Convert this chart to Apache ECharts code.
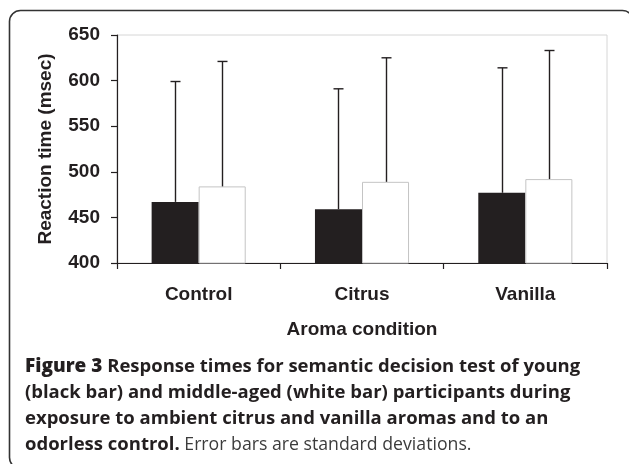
<!DOCTYPE html>
<html>
<head>
<meta charset="utf-8">
<script src="https://cdn.jsdelivr.net/npm/echarts@6/dist/echarts.min.js"></script>
<style>
  html, body { margin: 0; padding: 0; background: #fff; }
  #chart { width: 629px; height: 464px; }
</style>
</head>
<body>
<div id="chart"></div>
<script>
// data
const categories = ['Control', 'Citrus', 'Vanilla'];
const youngMeans = [467, 459, 477];
const youngSD = [132, 132, 137];
const middleMeans = [484, 489, 492];
const middleSD = [137, 136, 141];
const yMin = 400;
const yMax = 650;
const yStep = 50;

const captionLines = [
  ['Figure 3', ' Response times for semantic decision test of young'],
  ['', '(black bar) and middle-aged (white bar) participants during'],
  ['', 'exposure to ambient citrus and vanilla aromas and to an'],
  ['odorless control.', ' Error bars are standard deviations.']
];

const ink = '#231f20';
const barFrac = 0.288; // bar width as part of the category band

function errorBars(means, sds, side) {
  return {
    type: 'custom',
    z: 5,
    data: categories.map((c, i) => [i, means[i], sds[i]]),
    encode: { x: 0, y: 1 },
    renderItem: function (params, api) {
      const band = api.size([1, 0])[0];
      const p = api.coord([api.value(0), api.value(1)]);
      const top = api.coord([api.value(0), api.value(1) + api.value(2)])[1];
      const cx = Math.round(p[0] + side * band * barFrac / 2) + 0.5;
      const style = { stroke: ink, lineWidth: 1.4 };
      return {
        type: 'group',
        children: [
          { type: 'line', shape: { x1: cx, y1: p[1], x2: cx, y2: top }, style: style },
          { type: 'line', shape: { x1: cx - 5, y1: top, x2: cx + 5, y2: top }, style: style }
        ]
      };
    }
  };
}

// caption as rich text: figure label, regular tail on the last line
let captionText = captionLines.map(function (l, i) {
  if (i === 0) return '{f|' + l[0] + '}{s|' + l[1] + '}';
  if (i === 3) return '{s|' + l[0] + '}{n|' + l[1] + '}';
  return '{s|' + l[1] + '}';
}).join('\n');

const chart = echarts.init(document.getElementById('chart'));
const option = {
  backgroundColor: '#fff',
  animation: false,
  grid: {
    left: 117, right: 22, top: 35, bottom: 201,
    show: true, borderColor: '#d6d6d6', borderWidth: 1,
    backgroundColor: 'transparent'
  },
  xAxis: {
    type: 'category',
    data: categories,
    name: 'Aroma condition',
    nameLocation: 'middle',
    nameGap: 57,
    nameTextStyle: { fontFamily: 'Liberation Sans, Arial', fontWeight: 'bold', fontSize: 19, color: ink },
    axisLine: { lineStyle: { color: ink, width: 1.2 } },
    axisTick: { show: true, length: 6, lineStyle: { color: ink, width: 1.2 } },
    axisLabel: { margin: 22, fontFamily: 'Liberation Sans, Arial', fontWeight: 'bold', fontSize: 19, color: ink }
  },
  yAxis: {
    type: 'value',
    min: yMin,
    max: yMax,
    interval: yStep,
    name: 'Reaction time (msec)',
    nameLocation: 'middle',
    nameGap: 62,
    nameTextStyle: { fontFamily: 'Liberation Sans, Arial', fontWeight: 'bold', fontSize: 19, color: ink },
    axisLine: { show: true, lineStyle: { color: ink, width: 1.2 } },
    axisTick: { show: true, length: 6, lineStyle: { color: ink, width: 1.2 } },
    splitLine: { show: false },
    axisLabel: { margin: 17, fontFamily: 'Liberation Sans, Arial', fontWeight: 'bold', fontSize: 19, color: ink }
  },
  series: [
    {
      name: 'Young',
      type: 'bar',
      data: youngMeans,
      barWidth: (barFrac * 100) + '%',
      barGap: '0%',
      itemStyle: { color: ink }
    },
    {
      name: 'Middle-aged',
      type: 'bar',
      data: middleMeans,
      barWidth: (barFrac * 100) + '%',
      barGap: '0%',
      itemStyle: { color: '#fff', borderColor: '#c4c4c4', borderWidth: 1 }
    },
    errorBars(youngMeans, youngSD, -1),
    errorBars(middleMeans, middleSD, 1)
  ],
  graphic: [
    {
      type: 'rect',
      shape: { x: 9.5, y: 10.5, width: 624, height: 458, r: 11 },
      style: { fill: 'none', stroke: '#333', lineWidth: 1.6 },
      silent: true
    },
    {
      type: 'text',
      left: 25,
      top: 354,
      style: {
        text: captionText,
        fontFamily: 'Open Sans',
        fontWeight: 'bold',
        fontSize: 18.5,
        lineHeight: 26,
        fill: ink,
        rich: {
          f: { fontFamily: 'Open Sans', fontWeight: 800, fontSize: 19, lineHeight: 26, fill: ink },
          s: { fontFamily: 'Open Sans', fontWeight: 700, fontSize: 18.5, lineHeight: 26, fill: ink },
          n: { fontFamily: 'Open Sans', fontWeight: 'normal', fontSize: 17.7, lineHeight: 26, fill: '#3c3c3c' }
        }
      }
    }
  ]
};
chart.setOption(option);
</script>
</body>
</html>
